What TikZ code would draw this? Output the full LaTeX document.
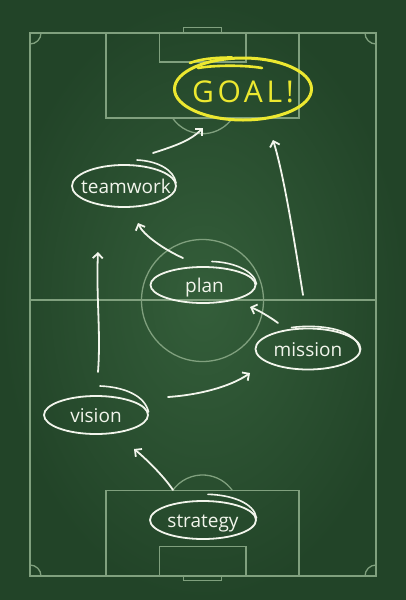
\documentclass[tikz,border=0pt]{standalone}
\usepackage{fontspec}
\setmainfont{Open Sans}
\newfontfamily\goalfont[LetterSpace=12]{Open Sans}
\usetikzlibrary{arrows.meta,shapes.geometric}
\definecolor{bgdark}{RGB}{34,68,40}
\definecolor{bglight}{RGB}{52,94,58}
\definecolor{fieldline}{RGB}{128,160,126}
\definecolor{chalk}{RGB}{242,245,236}
\definecolor{chalkyellow}{RGB}{236,232,48}
\tikzset{
  fieldln/.style={draw=fieldline, line width=1.3pt},
  bubble/.style={ellipse, draw=chalk, line width=1.8pt, inner sep=0pt, outer sep=0pt,
    text=chalk, font=\fontsize{19}{22}\selectfont, text height=14pt, text depth=0pt},
  goalbubble/.style={ellipse, draw=chalkyellow, line width=3pt, inner sep=0pt, outer sep=0pt,
    text=chalkyellow, font=\goalfont\fontsize{30}{34}\selectfont, text height=26pt, text depth=0pt},
  tailw/.style={draw=chalk, line width=1.6pt, line cap=round},
  taily/.style={draw=chalkyellow, line width=2.6pt, line cap=round},
  arr/.style={draw=chalk, line width=1.8pt, line cap=round, -{Straight Barb[length=5pt,width=10pt]}},
}
\begin{document}
\begin{tikzpicture}[x=1pt,y=-1pt]
\useasboundingbox (0,0) rectangle (406,600);
% chalkboard
\shade[inner color=bglight, outer color=bgdark] (0,0) rectangle (406,600);
% pitch
\draw[fieldln] (30,33) rectangle (376,576);
\draw[fieldln] (30,300) -- (376,300);
\draw[fieldln] (202.5,300.5) circle[radius=61];
\draw[fieldln] (106,33) rectangle (299,118);
\draw[fieldln] (159.5,33) rectangle (246,62);
\draw[fieldln] (183.5,27.5) rectangle (221.5,33);
\draw[fieldln] (172.5,118) arc[start angle=145.3, end angle=34.7, radius=36.5];
\draw[fieldln] (106,490.7) rectangle (299,576);
\draw[fieldln] (159.5,546.7) rectangle (246,576);
\draw[fieldln] (183.5,576) rectangle (221.5,580.5);
\draw[fieldln] (172.5,490.7) arc[start angle=214.7, end angle=325.3, radius=36.5];
\draw[fieldln] (41,33) arc[start angle=0, end angle=90, radius=11];
\draw[fieldln] (365,33) arc[start angle=180, end angle=90, radius=11];
\draw[fieldln] (30,565) arc[start angle=270, end angle=360, radius=11];
\draw[fieldln] (365,576) arc[start angle=180, end angle=270, radius=11];
% nodes
\node[goalbubble, minimum width=137pt, minimum height=62pt] (goal) at (243,89) {\makebox[0pt]{GOAL!}};
\node[bubble, minimum width=104pt, minimum height=42pt] (teamwork) at (124,186) {\makebox[0pt]{\hspace{4pt}teamwork}};
\node[bubble, minimum width=105pt, minimum height=36pt] (plan) at (203,285) {\makebox[0pt]{\hspace{3pt}plan}};
\node[bubble, minimum width=105pt, minimum height=41pt] (mission) at (308,349) {\makebox[0pt]{mission}};
\node[bubble, minimum width=104pt, minimum height=38pt] (vision) at (96,415) {\makebox[0pt]{vision}};
\node[bubble, minimum width=106pt, minimum height=38pt] (strategy) at (203,520) {\makebox[0pt]{strategy}};
% chalk tails of the hand-drawn loops
\begin{scope}[shift={(goal.center)}]
  \draw[taily] (-53,-26) .. controls (-43,-30) and (-28,-31.5) .. (-11,-31.5);
  \draw[taily] (-45,-21) .. controls (-28,-24) and (2,-24) .. (19,-21);
\end{scope}
\begin{scope}[shift={(teamwork.center)}]
  \draw[tailw] (13,-26) .. controls (34,-25) and (50,-16) .. (52,-3);
\end{scope}
\begin{scope}[shift={(plan.center)}]
  \draw[tailw] (9,-23.5) .. controls (29,-23) and (51,-15) .. (53.5,-1);
\end{scope}
\begin{scope}[shift={(mission.center)}]
  \draw[tailw] (-16.5,-21.5) .. controls (10,-25) and (49,-21) .. (52,1);
\end{scope}
\begin{scope}[shift={(vision.center)}]
  \draw[tailw] (4,-29) .. controls (29,-28) and (49,-19) .. (52.5,-3);
\end{scope}
\begin{scope}[shift={(strategy.center)}]
  \draw[tailw] (5,-25.7) .. controls (29,-25) and (51,-17) .. (53.5,-2);
\end{scope}
% arrows
\draw[arr] ([shift={(29,-33)}]teamwork.center) .. controls +(25,-8) and +(-12,12) .. ([shift={(-40,39)}]goal.center);
\draw[arr] ([shift={(-5,-54)}]mission.center) .. controls +(-8,-50) and +(11,35) .. ([shift={(30,51)}]goal.center);
\draw[arr] ([shift={(-20,-27)}]plan.center) .. controls +(-18,-8) and +(5,12) .. ([shift={(14,37)}]teamwork.center);
\draw[arr] ([shift={(2,-43)}]vision.center) .. controls +(3,-40) and +(-2,45) .. ([shift={(-26,66)}]teamwork.center);
\draw[arr] ([shift={(-30,-26)}]mission.center) .. controls +(-8,-6) and +(8,3) .. ([shift={(47,22)}]plan.center);
\draw[arr] ([shift={(72,-18)}]vision.center) .. controls +(30,-2) and +(-20,14) .. ([shift={(-58,24)}]mission.center);
\draw[arr] ([shift={(-30,-30)}]strategy.center) .. controls +(-10,-15) and +(10,8) .. ([shift={(38,34)}]vision.center);
\end{tikzpicture}
\end{document}
